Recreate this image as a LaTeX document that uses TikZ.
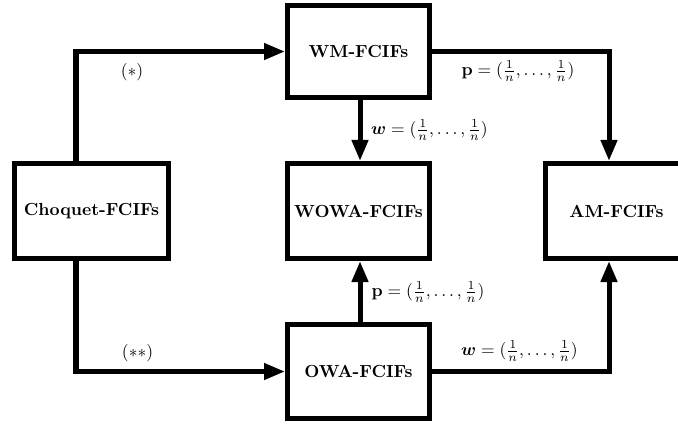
\documentclass[tikz,border=0pt]{standalone}
\usepackage{amsmath}
\usetikzlibrary{arrows.meta}

\tikzset{
  box/.style={draw, line width=2.86pt, fill=white, font=\bfseries,
              minimum width=81.1pt, minimum height=54.3pt, inner sep=0pt},
  link/.style={line width=2.86pt, -{Triangle[length=12pt,width=9pt]}},
  lab/.style={inner sep=0pt}
}

\begin{document}
\begin{tikzpicture}[x=0.5714pt, y=-0.5714pt]
  \useasboundingbox (0,0) rectangle (678,423);
  \clip (0,0) rectangle (678,423);

  % boxes
  \node[box, minimum width=88pt] (choq) at (91.5,211) {Choquet-FCIFs};
  \node[box, minimum height=52.6pt] (wm) at (358.5,51.5) {WM-FCIFs};
  \node[box] (wowa) at (358.5,211) {WOWA-FCIFs};
  \node[box, minimum height=53.7pt] (owa) at (358.5,371.5) {OWA-FCIFs};
  \node[box] (am) at (616.5,211) {AM-FCIFs};

  % routing columns
  \coordinate (lx) at (76,0);
  \coordinate (mx) at (360,0);
  \coordinate (rx) at (609,0);

  % connectors
  \draw[link] (choq.north -| lx) |- (wm.west);
  \draw[link] (choq.south -| lx) |- (owa.west);
  \draw[link] (wm.south -| mx) -- (wowa.north -| mx);
  \draw[link] (owa.north -| mx) -- (wowa.south -| mx);
  \draw[link] (wm.east) -| (am.north -| rx);
  \draw[link] (owa.east) -| (am.south -| rx);

  % labels
  \node[lab] (l1) at (132,72) {$(*)$};
  \node[lab] (l2) at (137.5,353) {$(**)$};
  \node[lab] (l3) at (429.5,130) {$\boldsymbol{w}=(\frac{1}{n},\ldots,\frac{1}{n})$};
  \node[lab] (l4) at (518,71) {$\mathbf{p}=(\frac{1}{n},\ldots,\frac{1}{n})$};
  \node[lab] (l5) at (428,292) {$\mathbf{p}=(\frac{1}{n},\ldots,\frac{1}{n})$};
  \node[lab] (l6) at (519.5,351) {$\boldsymbol{w}=(\frac{1}{n},\ldots,\frac{1}{n})$};
\end{tikzpicture}
\end{document}
